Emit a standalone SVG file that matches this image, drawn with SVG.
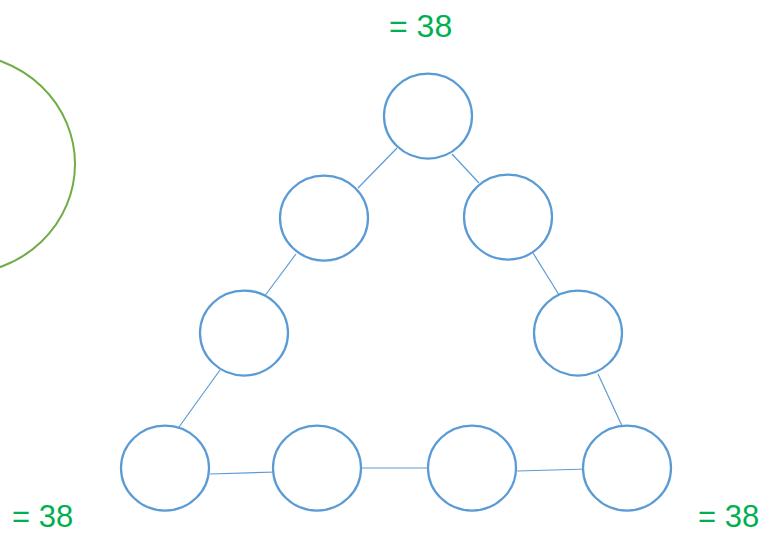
<svg xmlns="http://www.w3.org/2000/svg" width="771" height="534" viewBox="0 0 771 534">
<style>
.node{fill:#FFFFFF;stroke:#5B9BD5;stroke-width:2.25}
.edge{stroke:#5B9BD5;stroke-width:1.2;fill:none}
.sum{font-family:"Liberation Sans",Arial,sans-serif;font-size:32px;fill:#00B050}
.low{font-size:31px}
</style>
<rect width="771" height="534" fill="#FFFFFF"/>
<ellipse id="green-arc" cx="-40" cy="164" rx="115" ry="110" fill="none" stroke="#70AD47" stroke-width="2"/>
<g id="connectors">
<line class="edge" x1="397" y1="148" x2="358" y2="188"/>
<line class="edge" x1="452" y1="154" x2="479" y2="183"/>
<line class="edge" x1="296" y1="254" x2="264" y2="297"/>
<line class="edge" x1="533" y1="253" x2="561" y2="298"/>
<line class="edge" x1="220" y1="370" x2="179" y2="427"/>
<line class="edge" x1="598" y1="374" x2="623" y2="428"/>
<line class="edge" x1="210" y1="474" x2="277" y2="472"/>
<line class="edge" x1="362" y1="468" x2="428" y2="468"/>
<line class="edge" x1="517" y1="471" x2="589" y2="469"/>
</g>
<g id="n1"><ellipse class="node" cx="428" cy="116" rx="44" ry="42.5"/></g>
<g id="n2"><ellipse class="node" cx="324" cy="218" rx="44" ry="42.5"/></g>
<g id="n3"><ellipse class="node" cx="508" cy="217" rx="44" ry="42.5"/></g>
<g id="n4"><ellipse class="node" cx="244" cy="333" rx="44" ry="42.5"/></g>
<g id="n5"><ellipse class="node" cx="578" cy="333" rx="44" ry="42.5"/></g>
<g id="n6"><ellipse class="node" cx="165" cy="468" rx="44" ry="42.5"/></g>
<g id="n7"><ellipse class="node" cx="317" cy="468" rx="44" ry="42.5"/></g>
<g id="n8"><ellipse class="node" cx="472" cy="468" rx="44" ry="42.5"/></g>
<g id="n9"><ellipse class="node" cx="627" cy="468" rx="44" ry="42.5"/></g>
<text class="sum" x="389" y="37">= 38</text>
<text class="sum low" x="12" y="527">= 38</text>
<text class="sum low" x="698" y="527">= 38</text>
</svg>
